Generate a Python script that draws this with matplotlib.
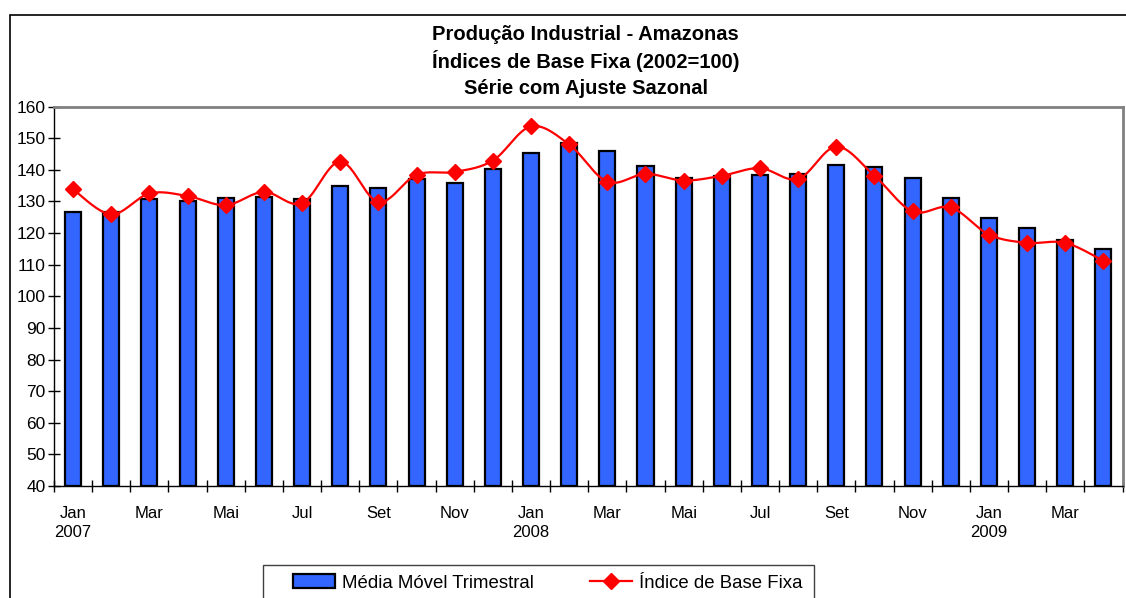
import numpy as np
import matplotlib
matplotlib.use("Agg")
import matplotlib.pyplot as plt
from matplotlib.patches import Rectangle, Patch
from matplotlib.lines import Line2D

plt.rcParams['font.family'] = ['Liberation Sans', 'DejaVu Sans']

# ---- data ----
months = ["Jan", "Fev", "Mar", "Abr", "Mai", "Jun", "Jul", "Ago", "Set", "Out", "Nov", "Dez",
          "Jan", "Fev", "Mar", "Abr", "Mai", "Jun", "Jul", "Ago", "Set", "Out", "Nov", "Dez",
          "Jan", "Fev", "Mar", "Abr"]
years = {0: "2007", 12: "2008", 24: "2009"}
media_movel = [126.6, 126.5, 130.9, 130.1, 131.2, 131.4, 130.6, 135.0, 134.1, 137.1,
               135.8, 140.3, 145.4, 148.5, 146.0, 141.1, 137.3, 137.9, 138.4, 138.6,
               141.6, 140.8, 137.4, 131.0, 124.8, 121.6, 117.8, 115.0]
indice = [133.8, 125.9, 132.5, 131.7, 128.8, 133.0, 129.4, 142.6, 129.8, 138.4,
          139.3, 142.9, 153.7, 148.0, 136.2, 138.7, 136.6, 138.1, 140.5, 137.1,
          147.3, 138.1, 126.8, 128.1, 119.5, 116.9, 116.9, 111.2]
yticks = list(range(40, 161, 10))
title_lines = ["Produção Industrial - Amazonas",
               "Índices de Base Fixa (2002=100)",
               "Série com Ajuste Sazonal"]
legend_labels = ["Média Móvel Trimestral", "Índice de Base Fixa"]

W, H = 1126, 598
fig = plt.figure(figsize=(W / 100, H / 100), dpi=100)
ax = fig.add_axes([54 / W, 1 - 486 / H, (1122.5 - 54) / W, (486 - 106.5) / H])

n = len(media_movel)
x = np.arange(n)
bar_col = "#3366FF"
ax.bar(x, np.array(media_movel) - 40, bottom=40, width=0.42, color=bar_col,
       edgecolor="black", linewidth=1.6, zorder=2)

# smoothed line (Excel-like Bezier through points)
def smooth(xs, ys, steps=30):
    pts = np.column_stack([xs, ys]).astype(float)
    out = []
    m = len(pts)
    for i in range(m - 1):
        p0 = pts[i - 1] if i > 0 else pts[i]
        p1 = pts[i]
        p2 = pts[i + 1]
        p3 = pts[i + 2] if i + 2 < m else pts[i + 1]
        c1 = p1 + (p2 - p0) / 6.0
        c2 = p2 - (p3 - p1) / 6.0
        t = np.linspace(0, 1, steps)[:, None]
        seg = ((1 - t) ** 3) * p1 + 3 * ((1 - t) ** 2) * t * c1 + 3 * (1 - t) * t ** 2 * c2 + t ** 3 * p2
        out.append(seg if i == 0 else seg[1:])
    out = np.vstack(out)
    return out[:, 0], out[:, 1]

sx, sy = smooth(x, indice)
ax.plot(sx, sy, color="#FF0000", linewidth=1.6, zorder=3)
ax.plot(x, indice, linestyle="none", marker="D", markersize=8, color="#FF0000",
        markeredgecolor="#FF0000", zorder=4)

ax.set_xlim(-0.5, n - 0.5)
ax.set_ylim(40, 160)
ax.set_yticks(yticks)
ax.tick_params(axis='y', labelsize=12.5, direction='inout', length=8, width=1, pad=2)

# x ticks at category boundaries, labels at categories
ax.set_xticks(np.arange(n + 1) - 0.5)
ax.set_xticklabels([])
ax.tick_params(axis='x', direction='inout', length=9, width=1)
for i, mth in enumerate(months):
    if i % 2 == 0:
        lab = mth + ("\n" + years[i] if i in years else "")
        ax.annotate(lab, xy=(i, 40), xycoords='data', xytext=(0, -14.5),
                    textcoords='offset points', ha='center', va='top',
                    fontsize=12, linespacing=1.3)

for s in ["left", "bottom"]:
    ax.spines[s].set_color("black")
    ax.spines[s].set_linewidth(1.0)
for s in ["top", "right"]:
    ax.spines[s].set_color("#808080")
    ax.spines[s].set_linewidth(2.0)

# title
for k, t in enumerate(title_lines):
    fig.text(585.5 / W, 1 - (34 + 27.3 * k) / H, t, ha='center', va='center',
             fontsize=14.5, fontweight='bold')

# outer border
fig.patches.append(Rectangle((10 / W, -0.2), 2.0, 1.2 - 15 / H, transform=fig.transFigure,
                             fill=False, edgecolor="black", linewidth=1.2))

# legend frame
fig.patches.append(Rectangle((263 / W, -0.1), (814 - 263) / W, 0.1 + 1 - 565 / H,
                             transform=fig.transFigure, fill=False,
                             edgecolor="#404040", linewidth=1.0))

handles = [Patch(facecolor=bar_col, edgecolor="black", linewidth=1.6),
           Line2D([0], [0], color="#FF0000", linewidth=1.6, marker="D", markersize=8)]
leg = fig.legend(handles, legend_labels, ncol=2, loc='center left',
                 bbox_to_anchor=(293 / W, 1 - 583 / H), fontsize=13.4,
                 frameon=False, handlelength=2.25, handleheight=0.8, handletextpad=0.4,
                 columnspacing=3.0, borderpad=0, borderaxespad=0)

fig.savefig("out.png", dpi=100)
